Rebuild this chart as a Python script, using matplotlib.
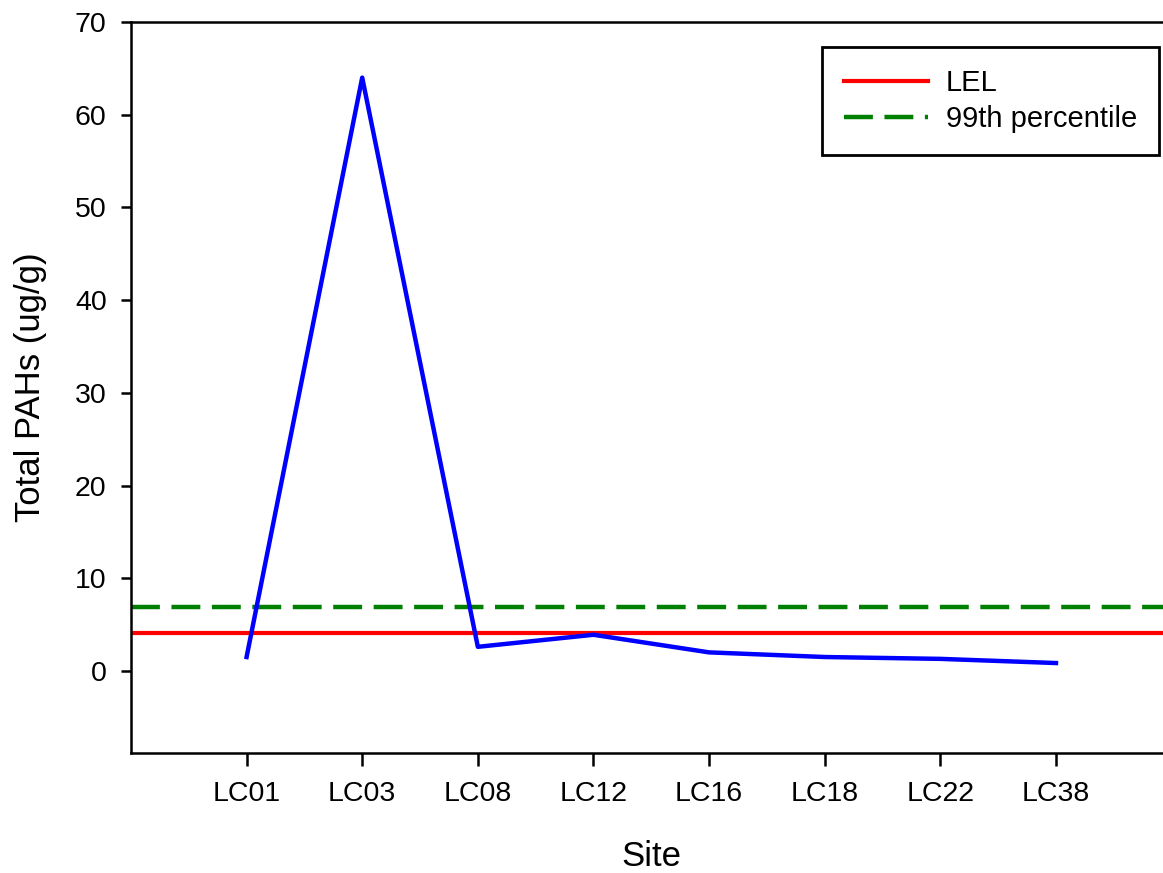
import matplotlib
matplotlib.use("Agg")
import matplotlib.pyplot as plt

plt.rcParams['font.family'] = ['Liberation Sans', 'DejaVu Sans']

sites = ['LC01', 'LC03', 'LC08', 'LC12', 'LC16', 'LC18', 'LC22', 'LC38']
total_pahs = [1.5, 64.0, 2.6, 3.9, 2.0, 1.5, 1.3, 0.85]
lel = 4.05
pct99 = 6.9

fig = plt.figure(figsize=(11.63, 8.73), dpi=100)
ax = fig.add_axes([0.1126, 0.1375, 0.8948, 0.8373])

x = list(range(1, len(sites) + 1))
ax.plot(x, total_pahs, color='blue', lw=3.2, zorder=3)
ax.axhline(lel, color='red', lw=3.0, label='LEL')
ax.axhline(pct99, color='green', lw=3.2, dashes=(6.5, 2.6), dash_capstyle='butt',
           label='99th percentile')

ax.set_xlim(0, 9)
ax.set_ylim(-8.85, 70)
ax.set_xticks(x)
ax.set_xticklabels(sites)
ax.set_yticks(range(0, 71, 10))

for s in ax.spines.values():
    s.set_linewidth(1.8)
ax.tick_params(axis='y', direction='out', length=7.5, width=1.8, labelsize=20.5, pad=10)
ax.tick_params(axis='x', direction='out', length=9, width=1.8, labelsize=20.5, pad=11)

ax.set_xlabel('Site', fontsize=25, labelpad=24)
ax.set_ylabel('Total PAHs (ug/g)', fontsize=25, labelpad=20)

leg = ax.legend(loc='upper left', bbox_to_anchor=(0.664, 0.966), fontsize=21,
                frameon=True, fancybox=False, edgecolor='black', framealpha=1,
                handlelength=2.9, handletextpad=0.6, borderpad=0.75,
                labelspacing=0.3, borderaxespad=0)
leg.get_frame().set_linewidth(2.0)

fig.savefig('out.png', dpi=100)
